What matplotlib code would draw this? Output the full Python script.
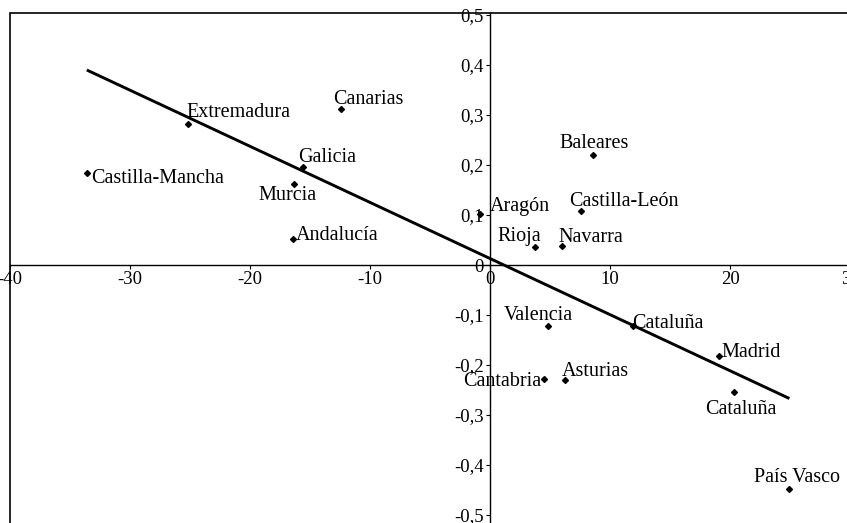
import matplotlib
matplotlib.use("Agg")
import matplotlib.pyplot as plt
from matplotlib.patches import Rectangle

# Regions: (x, y) scores
regions = ["Extremadura", "Castilla-Mancha", "Canarias", "Galicia", "Murcia",
           "Andalucía", "Aragón", "Rioja", "Navarra", "Castilla-León",
           "Baleares", "Valencia", "Cantabria", "Asturias", "Cataluña",
           "Madrid", "Cataluña", "País Vasco"]
x_vals = [-25.2, -33.6, -12.4, -15.6, -16.3, -16.4, -0.8, 3.75, 6.0, 7.55,
          8.55, 4.8, 4.5, 6.25, 11.9, 19.1, 20.3, 24.9]
y_vals = [0.282, 0.184, 0.313, 0.197, 0.163, 0.053, 0.103, 0.037, 0.038, 0.109,
          0.220, -0.121, -0.227, -0.229, -0.121, -0.182, -0.253, -0.447]

# fitted trend line end points
trend_x = [-33.6, 24.95]
trend_y = [0.390, -0.267]

x_ticks = [-40, -30, -20, -10, 0, 10, 20, 30]
y_ticks = [0.5, 0.4, 0.3, 0.2, 0.1, 0, -0.1, -0.2, -0.3, -0.4, -0.5]
y_tick_labels = ["0,5", "0,4", "0,3", "0,2", "0,1", "0",
                 "-0,1", "-0,2", "-0,3", "-0,4", "-0,5"]

# label offsets from each point, in pixels (right, up), text anchored left/baseline
label_offsets = [(-1, 7), (4, -10), (-8, 5), (-5, 5), (-36, -17), (3, -1),
                 (9, 2), (-38, 6), (-4, 4), (-11, 5), (-33, 7), (-44, 5),
                 (-81, -7), (-3, 4), (-1, -2), (2, -1), (-28, -23), (-35, 6)]

plt.rcParams["font.family"] = ["Liberation Serif", "DejaVu Serif"]

fig = plt.figure(figsize=(8.47, 5.23), dpi=100)
ax = fig.add_axes([10 / 847, -7 / 523, 840 / 847, 517 / 523])
ax.set_xlim(-40, 30)
ax.set_ylim(-0.53, 0.504)

for side in ["top", "right"]:
    ax.spines[side].set_visible(False)
ax.spines["left"].set_position(("data", 0))
ax.spines["bottom"].set_position(("data", 0))
for side in ["left", "bottom"]:
    ax.spines[side].set_linewidth(1.0)

# outer frame
ax.add_patch(Rectangle((0, 0), 1, 1, transform=ax.transAxes, fill=False,
                       edgecolor="black", linewidth=1.2, clip_on=False))

ax.set_xticks(x_ticks)
ax.set_xticklabels([str(t) for t in x_ticks])
ax.set_yticks(y_ticks)
ax.set_yticklabels(y_tick_labels)
ax.tick_params(axis="both", direction="out", length=3, width=0.8,
               labelsize=13.5, pad=1.5)

ax.plot(x_vals, y_vals, linestyle="none", marker="D", markersize=3,
        color="black", zorder=2)
ax.plot(trend_x, trend_y, color="black", linewidth=2.1,
        solid_capstyle="butt", zorder=3)

for name, xv, yv, (dx, dy) in zip(regions, x_vals, y_vals, label_offsets):
    ax.annotate(name, (xv, yv), xytext=(dx * 0.72, dy * 0.72),
                textcoords="offset points", ha="left", va="baseline",
                fontsize=14.5)

fig.savefig("out.png", dpi=100)
